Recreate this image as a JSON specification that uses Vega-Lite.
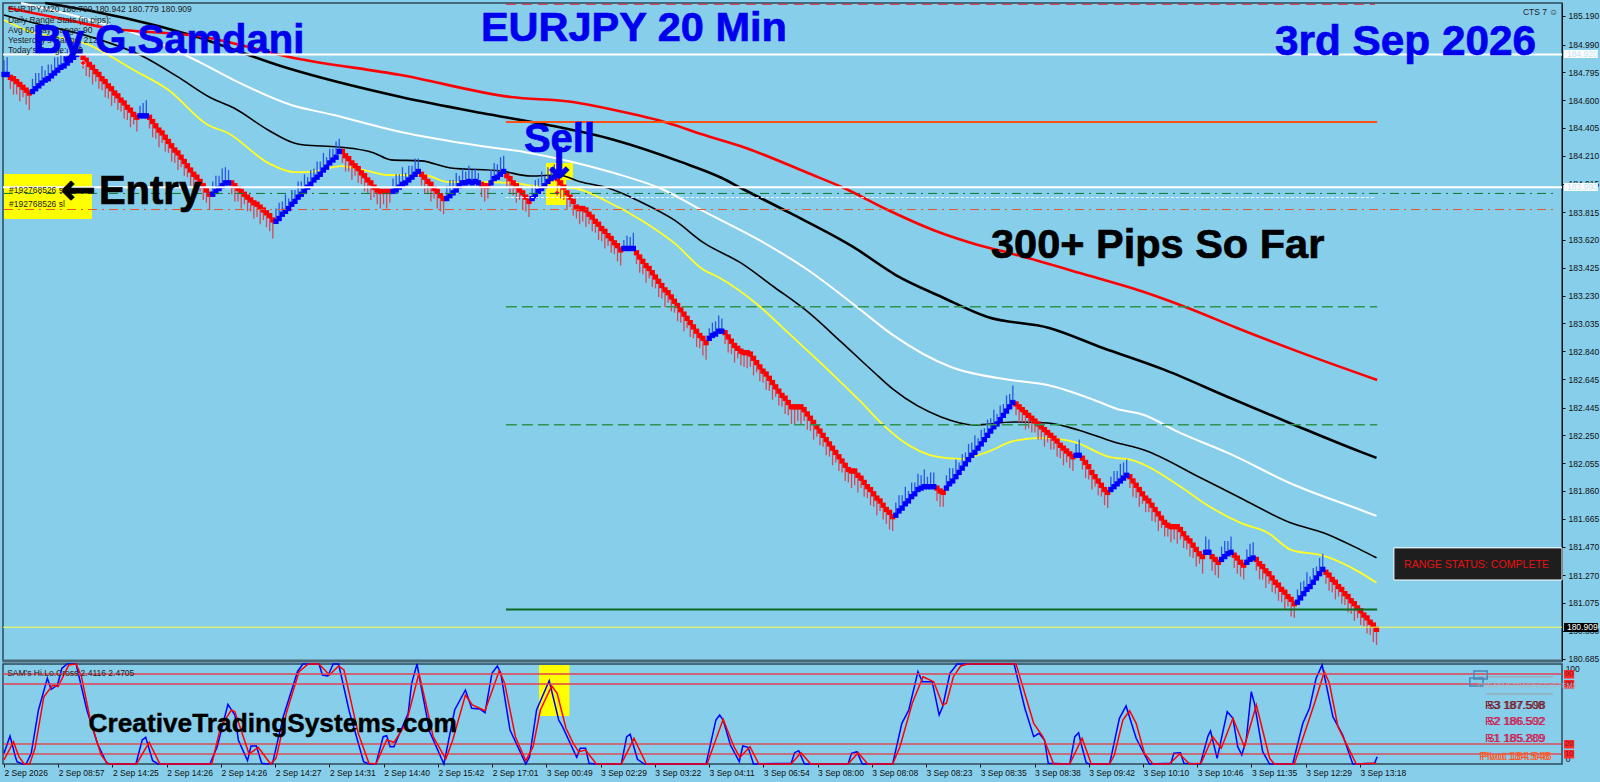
{
"$schema":"https://vega.github.io/schema/vega-lite/v6.json",
"background":"#87CEEB",
"padding":{"left":-1,"top":-3,"right":10,"bottom":22},
"spacing":-4,
"config":{"font":"Liberation Sans","view":{"stroke":"#2d4a58","strokeWidth":1.5}},
"datasets":{
"down":[{"bar":2,"price":184.76,"wick":184.68},{"bar":3,"price":184.75,"wick":184.64},{"bar":4,"price":184.73,"wick":184.64},{"bar":5,"price":184.71,"wick":184.59},{"bar":6,"price":184.69,"wick":184.62},{"bar":7,"price":184.67,"wick":184.57},{"bar":8,"price":184.65,"wick":184.53},
{"bar":25,"price":184.9,"wick":184.82},{"bar":26,"price":184.88,"wick":184.77},{"bar":27,"price":184.85,"wick":184.76},{"bar":28,"price":184.83,"wick":184.71},{"bar":29,"price":184.8,"wick":184.73},{"bar":30,"price":184.78,"wick":184.68},{"bar":31,"price":184.75,"wick":184.67},{"bar":32,"price":184.73,"wick":184.62},{"bar":33,"price":184.7,"wick":184.61},{"bar":34,"price":184.68,"wick":184.56},{"bar":35,"price":184.65,"wick":184.58},{"bar":36,"price":184.63,"wick":184.53},{"bar":37,"price":184.6,"wick":184.52},{"bar":38,"price":184.58,"wick":184.47},{"bar":39,"price":184.55,"wick":184.46},{"bar":40,"price":184.53,"wick":184.41},{"bar":41,"price":184.5,"wick":184.43},{"bar":42,"price":184.48,"wick":184.38},
{"bar":46,"price":184.48,"wick":184.4},{"bar":47,"price":184.45,"wick":184.34},{"bar":48,"price":184.42,"wick":184.33},{"bar":49,"price":184.39,"wick":184.27},{"bar":50,"price":184.37,"wick":184.3},{"bar":51,"price":184.34,"wick":184.24},{"bar":52,"price":184.31,"wick":184.23},{"bar":53,"price":184.28,"wick":184.17},{"bar":54,"price":184.25,"wick":184.16},{"bar":55,"price":184.23,"wick":184.11},{"bar":56,"price":184.2,"wick":184.13},{"bar":57,"price":184.17,"wick":184.07},{"bar":58,"price":184.14,"wick":184.06},{"bar":59,"price":184.11,"wick":184},{"bar":60,"price":184.08,"wick":183.99},{"bar":61,"price":184.06,"wick":183.94},{"bar":62,"price":184.03,"wick":183.96},{"bar":63,"price":184,"wick":183.9},{"bar":64,"price":183.97,"wick":183.88},{"bar":65,"price":183.94,"wick":183.83},
{"bar":72,"price":184.02,"wick":183.94},{"bar":73,"price":184,"wick":183.89},{"bar":74,"price":183.98,"wick":183.89},{"bar":75,"price":183.96,"wick":183.84},{"bar":76,"price":183.94,"wick":183.87},{"bar":77,"price":183.92,"wick":183.82},{"bar":78,"price":183.9,"wick":183.82},{"bar":79,"price":183.88,"wick":183.77},{"bar":80,"price":183.87,"wick":183.78},{"bar":81,"price":183.85,"wick":183.73},{"bar":82,"price":183.83,"wick":183.76},{"bar":83,"price":183.81,"wick":183.71},{"bar":84,"price":183.79,"wick":183.68},{"bar":85,"price":183.76,"wick":183.63},
{"bar":107,"price":184.24,"wick":184.16},{"bar":108,"price":184.21,"wick":184.1},{"bar":109,"price":184.19,"wick":184.1},{"bar":110,"price":184.16,"wick":184.04},{"bar":111,"price":184.14,"wick":184.07},{"bar":112,"price":184.12,"wick":184.02},{"bar":113,"price":184.09,"wick":184.01},{"bar":114,"price":184.07,"wick":183.96},{"bar":115,"price":184.04,"wick":183.95},{"bar":116,"price":184.02,"wick":183.9},{"bar":117,"price":183.99,"wick":183.92},{"bar":118,"price":183.97,"wick":183.87},{"bar":119,"price":183.96,"wick":183.84},{"bar":120,"price":183.96,"wick":183.87},{"bar":121,"price":183.96,"wick":183.84},{"bar":122,"price":183.96,"wick":183.88},
{"bar":132,"price":184.08,"wick":184},{"bar":133,"price":184.06,"wick":183.95},{"bar":134,"price":184.03,"wick":183.94},{"bar":135,"price":184.01,"wick":183.89},{"bar":136,"price":183.98,"wick":183.91},{"bar":137,"price":183.96,"wick":183.84},{"bar":138,"price":183.93,"wick":183.82},{"bar":139,"price":183.91,"wick":183.8},
{"bar":151,"price":184.01,"wick":183.92},{"bar":152,"price":184,"wick":183.89},{"bar":153,"price":184,"wick":183.91},
{"bar":159,"price":184.07,"wick":183.99},{"bar":160,"price":184.05,"wick":183.94},{"bar":161,"price":184.02,"wick":183.93},{"bar":162,"price":184,"wick":183.88},{"bar":163,"price":183.97,"wick":183.9},{"bar":164,"price":183.95,"wick":183.83},{"bar":165,"price":183.92,"wick":183.82},{"bar":166,"price":183.89,"wick":183.78},
{"bar":175,"price":184.05,"wick":183.97},{"bar":176,"price":184.02,"wick":183.91},{"bar":177,"price":183.99,"wick":183.9},{"bar":178,"price":183.95,"wick":183.83},{"bar":179,"price":183.92,"wick":183.85},{"bar":180,"price":183.89,"wick":183.79},{"bar":181,"price":183.85,"wick":183.77},{"bar":182,"price":183.84,"wick":183.73},{"bar":183,"price":183.84,"wick":183.75},{"bar":184,"price":183.83,"wick":183.71},{"bar":185,"price":183.8,"wick":183.73},{"bar":186,"price":183.78,"wick":183.68},{"bar":187,"price":183.75,"wick":183.67},{"bar":188,"price":183.73,"wick":183.62},{"bar":189,"price":183.7,"wick":183.61},{"bar":190,"price":183.68,"wick":183.56},{"bar":191,"price":183.65,"wick":183.58},{"bar":192,"price":183.63,"wick":183.53},{"bar":193,"price":183.6,"wick":183.52},{"bar":194,"price":183.58,"wick":183.47},{"bar":195,"price":183.55,"wick":183.44},
{"bar":200,"price":183.53,"wick":183.45},{"bar":201,"price":183.5,"wick":183.39},{"bar":202,"price":183.47,"wick":183.38},{"bar":203,"price":183.44,"wick":183.32},{"bar":204,"price":183.42,"wick":183.35},{"bar":205,"price":183.39,"wick":183.29},{"bar":206,"price":183.36,"wick":183.28},{"bar":207,"price":183.33,"wick":183.22},{"bar":208,"price":183.3,"wick":183.21},{"bar":209,"price":183.27,"wick":183.15},{"bar":210,"price":183.25,"wick":183.18},{"bar":211,"price":183.22,"wick":183.12},{"bar":212,"price":183.19,"wick":183.11},{"bar":213,"price":183.16,"wick":183.05},{"bar":214,"price":183.13,"wick":183.04},{"bar":215,"price":183.1,"wick":182.98},{"bar":216,"price":183.07,"wick":183},{"bar":217,"price":183.04,"wick":182.94},{"bar":218,"price":183.01,"wick":182.93},{"bar":219,"price":182.98,"wick":182.87},{"bar":220,"price":182.95,"wick":182.86},{"bar":221,"price":182.93,"wick":182.81},{"bar":222,"price":182.9,"wick":182.78},
{"bar":228,"price":182.97,"wick":182.89},{"bar":229,"price":182.94,"wick":182.83},{"bar":230,"price":182.91,"wick":182.82},{"bar":231,"price":182.88,"wick":182.76},{"bar":232,"price":182.86,"wick":182.79},{"bar":233,"price":182.84,"wick":182.74},{"bar":234,"price":182.83,"wick":182.73},{"bar":235,"price":182.83,"wick":182.72},{"bar":236,"price":182.82,"wick":182.73},{"bar":237,"price":182.79,"wick":182.67},{"bar":238,"price":182.76,"wick":182.69},{"bar":239,"price":182.73,"wick":182.63},{"bar":240,"price":182.7,"wick":182.62},{"bar":241,"price":182.68,"wick":182.57},{"bar":242,"price":182.65,"wick":182.56},{"bar":243,"price":182.62,"wick":182.5},{"bar":244,"price":182.59,"wick":182.52},{"bar":245,"price":182.56,"wick":182.46},{"bar":246,"price":182.53,"wick":182.45},{"bar":247,"price":182.51,"wick":182.4},{"bar":248,"price":182.48,"wick":182.39},{"bar":249,"price":182.45,"wick":182.33},{"bar":250,"price":182.45,"wick":182.33},{"bar":251,"price":182.45,"wick":182.35},{"bar":252,"price":182.45,"wick":182.33},
{"bar":253,"price":182.43,"wick":182.35},{"bar":254,"price":182.4,"wick":182.29},{"bar":255,"price":182.37,"wick":182.28},{"bar":256,"price":182.34,"wick":182.22},{"bar":257,"price":182.31,"wick":182.24},{"bar":258,"price":182.28,"wick":182.18},{"bar":259,"price":182.25,"wick":182.17},{"bar":260,"price":182.22,"wick":182.11},{"bar":261,"price":182.19,"wick":182.1},{"bar":262,"price":182.16,"wick":182.04},{"bar":263,"price":182.13,"wick":182.06},{"bar":264,"price":182.1,"wick":182},{"bar":265,"price":182.07,"wick":181.99},{"bar":266,"price":182.04,"wick":181.93},{"bar":267,"price":182.01,"wick":181.92},{"bar":268,"price":182,"wick":181.88},{"bar":269,"price":182,"wick":181.9},{"bar":270,"price":181.97,"wick":181.85},{"bar":271,"price":181.95,"wick":181.88},{"bar":272,"price":181.92,"wick":181.82},{"bar":273,"price":181.89,"wick":181.81},{"bar":274,"price":181.87,"wick":181.76},{"bar":275,"price":181.84,"wick":181.75},{"bar":276,"price":181.81,"wick":181.69},{"bar":277,"price":181.79,"wick":181.72},{"bar":278,"price":181.76,"wick":181.66},{"bar":279,"price":181.73,"wick":181.63},{"bar":280,"price":181.71,"wick":181.59},{"bar":281,"price":181.68,"wick":181.58},
{"bar":295,"price":181.88,"wick":181.79},{"bar":296,"price":181.86,"wick":181.75},{"bar":297,"price":181.85,"wick":181.75},
{"bar":320,"price":182.47,"wick":182.39},{"bar":321,"price":182.45,"wick":182.34},{"bar":322,"price":182.43,"wick":182.34},{"bar":323,"price":182.41,"wick":182.29},{"bar":324,"price":182.39,"wick":182.3},{"bar":325,"price":182.37,"wick":182.27},{"bar":326,"price":182.35,"wick":182.27},{"bar":327,"price":182.33,"wick":182.22},{"bar":328,"price":182.31,"wick":182.22},{"bar":329,"price":182.29,"wick":182.17},{"bar":330,"price":182.27,"wick":182.2},{"bar":331,"price":182.25,"wick":182.15},{"bar":332,"price":182.23,"wick":182.15},{"bar":333,"price":182.21,"wick":182.1},{"bar":334,"price":182.18,"wick":182.09},{"bar":335,"price":182.16,"wick":182.04},{"bar":336,"price":182.14,"wick":182.06},{"bar":337,"price":182.12,"wick":182.02},{"bar":338,"price":182.1,"wick":182},
{"bar":341,"price":182.09,"wick":182.01},{"bar":342,"price":182.06,"wick":181.95},{"bar":343,"price":182.03,"wick":181.94},{"bar":344,"price":181.99,"wick":181.87},{"bar":345,"price":181.96,"wick":181.89},{"bar":346,"price":181.93,"wick":181.83},{"bar":347,"price":181.9,"wick":181.82},{"bar":348,"price":181.87,"wick":181.76},{"bar":349,"price":181.85,"wick":181.74},
{"bar":356,"price":181.96,"wick":181.88},{"bar":357,"price":181.93,"wick":181.82},{"bar":358,"price":181.9,"wick":181.81},{"bar":359,"price":181.87,"wick":181.75},{"bar":360,"price":181.84,"wick":181.77},{"bar":361,"price":181.81,"wick":181.71},{"bar":362,"price":181.79,"wick":181.71},{"bar":363,"price":181.76,"wick":181.65},{"bar":364,"price":181.73,"wick":181.64},{"bar":365,"price":181.7,"wick":181.58},{"bar":366,"price":181.67,"wick":181.6},{"bar":367,"price":181.64,"wick":181.54},{"bar":368,"price":181.62,"wick":181.54},{"bar":369,"price":181.61,"wick":181.5},{"bar":370,"price":181.61,"wick":181.52},{"bar":371,"price":181.61,"wick":181.49},{"bar":372,"price":181.59,"wick":181.52},{"bar":373,"price":181.56,"wick":181.46},{"bar":374,"price":181.53,"wick":181.45},{"bar":375,"price":181.51,"wick":181.4},{"bar":376,"price":181.48,"wick":181.39},{"bar":377,"price":181.45,"wick":181.33},{"bar":378,"price":181.42,"wick":181.35},{"bar":379,"price":181.4,"wick":181.28},
{"bar":382,"price":181.4,"wick":181.3},{"bar":383,"price":181.38,"wick":181.27},{"bar":384,"price":181.36,"wick":181.25},
{"bar":389,"price":181.41,"wick":181.32},{"bar":390,"price":181.39,"wick":181.28},{"bar":391,"price":181.36,"wick":181.26},{"bar":392,"price":181.34,"wick":181.24},
{"bar":396,"price":181.38,"wick":181.3},{"bar":397,"price":181.35,"wick":181.24},{"bar":398,"price":181.33,"wick":181.24},{"bar":399,"price":181.3,"wick":181.18},{"bar":400,"price":181.28,"wick":181.21},{"bar":401,"price":181.25,"wick":181.15},{"bar":402,"price":181.22,"wick":181.14},{"bar":403,"price":181.2,"wick":181.09},{"bar":404,"price":181.17,"wick":181.08},{"bar":405,"price":181.15,"wick":181.03},{"bar":406,"price":181.12,"wick":181.05},{"bar":407,"price":181.1,"wick":180.98},{"bar":408,"price":181.07,"wick":180.97},
{"bar":418,"price":181.29,"wick":181.21},{"bar":419,"price":181.27,"wick":181.16},{"bar":420,"price":181.24,"wick":181.15},{"bar":421,"price":181.22,"wick":181.1},{"bar":422,"price":181.19,"wick":181.12},{"bar":423,"price":181.17,"wick":181.07},{"bar":424,"price":181.14,"wick":181.06},{"bar":425,"price":181.12,"wick":181.01},{"bar":426,"price":181.09,"wick":181},{"bar":427,"price":181.07,"wick":180.95},{"bar":428,"price":181.04,"wick":180.97},{"bar":429,"price":181.02,"wick":180.92},{"bar":430,"price":180.99,"wick":180.91},{"bar":431,"price":180.97,"wick":180.86},{"bar":432,"price":180.94,"wick":180.85},{"bar":433,"price":180.92,"wick":180.8},{"bar":434,"price":180.89,"wick":180.78}],
"up":[{"bar":0,"price":184.78,"wick":184.88},{"bar":1,"price":184.78,"wick":184.9},
{"bar":9,"price":184.66,"wick":184.75},{"bar":10,"price":184.68,"wick":184.79},{"bar":11,"price":184.7,"wick":184.79},{"bar":12,"price":184.72,"wick":184.84},{"bar":13,"price":184.74,"wick":184.81},{"bar":14,"price":184.75,"wick":184.85},{"bar":15,"price":184.77,"wick":184.85},{"bar":16,"price":184.79,"wick":184.9},{"bar":17,"price":184.81,"wick":184.9},{"bar":18,"price":184.83,"wick":184.95},{"bar":19,"price":184.84,"wick":184.91},{"bar":20,"price":184.86,"wick":184.96},{"bar":21,"price":184.88,"wick":184.96},{"bar":22,"price":184.9,"wick":185.01},{"bar":23,"price":184.92,"wick":185.01},{"bar":24,"price":184.94,"wick":185.06},
{"bar":43,"price":184.49,"wick":184.56},{"bar":44,"price":184.49,"wick":184.58},{"bar":45,"price":184.49,"wick":184.6},
{"bar":66,"price":183.94,"wick":184.03},{"bar":67,"price":183.96,"wick":184.07},{"bar":68,"price":183.98,"wick":184.07},{"bar":69,"price":184,"wick":184.12},{"bar":70,"price":184.02,"wick":184.13},{"bar":71,"price":184.02,"wick":184.11},
{"bar":86,"price":183.75,"wick":183.84},{"bar":87,"price":183.77,"wick":183.88},{"bar":88,"price":183.8,"wick":183.89},{"bar":89,"price":183.82,"wick":183.94},{"bar":90,"price":183.84,"wick":183.91},{"bar":91,"price":183.87,"wick":183.97},{"bar":92,"price":183.89,"wick":183.97},{"bar":93,"price":183.92,"wick":184.03},{"bar":94,"price":183.94,"wick":184.03},{"bar":95,"price":183.96,"wick":184.08},{"bar":96,"price":183.99,"wick":184.06},{"bar":97,"price":184.01,"wick":184.11},{"bar":98,"price":184.04,"wick":184.12},{"bar":99,"price":184.06,"wick":184.17},{"bar":100,"price":184.08,"wick":184.17},{"bar":101,"price":184.11,"wick":184.23},{"bar":102,"price":184.13,"wick":184.2},{"bar":103,"price":184.16,"wick":184.26},{"bar":104,"price":184.18,"wick":184.26},{"bar":105,"price":184.2,"wick":184.31},{"bar":106,"price":184.24,"wick":184.33},
{"bar":123,"price":183.96,"wick":184.05},{"bar":124,"price":183.97,"wick":184.08},{"bar":125,"price":183.99,"wick":184.08},{"bar":126,"price":184.01,"wick":184.13},{"bar":127,"price":184.02,"wick":184.09},{"bar":128,"price":184.04,"wick":184.14},{"bar":129,"price":184.06,"wick":184.14},{"bar":130,"price":184.08,"wick":184.19},{"bar":131,"price":184.1,"wick":184.19},
{"bar":140,"price":183.91,"wick":184},{"bar":141,"price":183.93,"wick":184.04},{"bar":142,"price":183.95,"wick":184.04},{"bar":143,"price":183.97,"wick":184.09},{"bar":144,"price":184,"wick":184.07},{"bar":145,"price":184.02,"wick":184.12},{"bar":146,"price":184.02,"wick":184.1},{"bar":147,"price":184.03,"wick":184.14},{"bar":148,"price":184.02,"wick":184.11},{"bar":149,"price":184.03,"wick":184.12},{"bar":150,"price":184.02,"wick":184.09},
{"bar":154,"price":184.02,"wick":184.11},{"bar":155,"price":184.05,"wick":184.16},{"bar":156,"price":184.06,"wick":184.15},{"bar":157,"price":184.08,"wick":184.2},{"bar":158,"price":184.1,"wick":184.21},
{"bar":167,"price":183.91,"wick":184},{"bar":168,"price":183.93,"wick":184.04},{"bar":169,"price":183.96,"wick":184.05},{"bar":170,"price":183.98,"wick":184.1},{"bar":171,"price":184,"wick":184.07},{"bar":172,"price":184.03,"wick":184.13},{"bar":173,"price":184.05,"wick":184.13},{"bar":174,"price":184.06,"wick":184.15},
{"bar":196,"price":183.56,"wick":183.62},{"bar":197,"price":183.56,"wick":183.65},{"bar":198,"price":183.56,"wick":183.64},{"bar":199,"price":183.56,"wick":183.67},
{"bar":223,"price":182.93,"wick":183},{"bar":224,"price":182.95,"wick":183.04},{"bar":225,"price":182.96,"wick":183.05},{"bar":226,"price":182.98,"wick":183.09},{"bar":227,"price":182.98,"wick":183.07},
{"bar":282,"price":181.69,"wick":181.78},{"bar":283,"price":181.72,"wick":181.83},{"bar":284,"price":181.74,"wick":181.83},{"bar":285,"price":181.77,"wick":181.89},{"bar":286,"price":181.79,"wick":181.86},{"bar":287,"price":181.82,"wick":181.92},{"bar":288,"price":181.84,"wick":181.92},{"bar":289,"price":181.87,"wick":181.98},{"bar":290,"price":181.88,"wick":181.97},{"bar":291,"price":181.89,"wick":182.01},{"bar":292,"price":181.89,"wick":181.96},{"bar":293,"price":181.89,"wick":181.99},{"bar":294,"price":181.89,"wick":181.99},
{"bar":298,"price":181.88,"wick":181.97},{"bar":299,"price":181.91,"wick":182.02},{"bar":300,"price":181.93,"wick":182.02},{"bar":301,"price":181.96,"wick":182.08},{"bar":302,"price":181.99,"wick":182.06},{"bar":303,"price":182.02,"wick":182.12},{"bar":304,"price":182.05,"wick":182.13},{"bar":305,"price":182.08,"wick":182.19},{"bar":306,"price":182.11,"wick":182.2},{"bar":307,"price":182.13,"wick":182.25},{"bar":308,"price":182.16,"wick":182.23},{"bar":309,"price":182.19,"wick":182.29},{"bar":310,"price":182.22,"wick":182.3},{"bar":311,"price":182.25,"wick":182.36},{"bar":312,"price":182.28,"wick":182.37},{"bar":313,"price":182.31,"wick":182.43},{"bar":314,"price":182.33,"wick":182.4},{"bar":315,"price":182.36,"wick":182.46},{"bar":316,"price":182.39,"wick":182.47},{"bar":317,"price":182.42,"wick":182.53},{"bar":318,"price":182.45,"wick":182.54},{"bar":319,"price":182.48,"wick":182.6},
{"bar":339,"price":182.11,"wick":182.19},{"bar":340,"price":182.11,"wick":182.22},
{"bar":350,"price":181.87,"wick":181.96},{"bar":351,"price":181.89,"wick":182},{"bar":352,"price":181.91,"wick":182},{"bar":353,"price":181.93,"wick":182.05},{"bar":354,"price":181.95,"wick":182.06},{"bar":355,"price":181.97,"wick":182.08},
{"bar":380,"price":181.43,"wick":181.54},{"bar":381,"price":181.43,"wick":181.52},
{"bar":385,"price":181.38,"wick":181.47},{"bar":386,"price":181.4,"wick":181.51},{"bar":387,"price":181.42,"wick":181.51},{"bar":388,"price":181.43,"wick":181.54},
{"bar":393,"price":181.36,"wick":181.45},{"bar":394,"price":181.38,"wick":181.49},{"bar":395,"price":181.39,"wick":181.5},
{"bar":409,"price":181.08,"wick":181.17},{"bar":410,"price":181.11,"wick":181.22},{"bar":411,"price":181.14,"wick":181.23},{"bar":412,"price":181.17,"wick":181.29},{"bar":413,"price":181.19,"wick":181.26},{"bar":414,"price":181.22,"wick":181.32},{"bar":415,"price":181.25,"wick":181.33},{"bar":416,"price":181.28,"wick":181.39},{"bar":417,"price":181.31,"wick":181.42}]
},
"vconcat":[
{"width":1559,"height":658,
"encoding":{
"x":{"field":"bar","type":"quantitative","title":null,"axis":null,"scale":{"domain":[-0.32,492.65],"nice":false,"zero":false}},
"y":{"field":"price","type":"quantitative","title":null,"scale":{"domain":[180.668,185.281],"nice":false,"zero":false},
"axis":{"orient":"right","grid":false,"title":null,"format":".3f","values":[185.19,184.99,184.795,184.6,184.405,184.21,184.015,183.815,183.62,183.425,183.23,183.035,182.84,182.645,182.445,182.25,182.055,181.86,181.665,181.47,181.27,181.075,180.88,180.685],"labelFontSize":8.5,"labelColor":"#111","tickColor":"#111","tickSize":3,"labelPadding":3,"domainColor":"#111","labelOverlap":false,"labelFlush":false}}
},
"layer":[
{"mark":{"type":"rect","color":"#ffff00"},"data":{"values":[{"bar":0,"end":27.8,"price":184.082,"low":183.767},{"bar":171.4,"end":177.7,"price":184.16,"low":183.865},{"bar":177.7,"end":179.9,"price":184.16,"low":184.04}]},"encoding":{"x2":{"field":"end"},"y2":{"field":"low"}}},
{"mark":{"type":"line","color":"#ffff22","strokeWidth":1.8,"interpolate":"monotone"},"data":{"values":[{"bar":0,"price":185.162},{"bar":8.5,"price":185.078},{"bar":18,"price":185.036},{"bar":25.3,"price":185},{"bar":41,"price":184.811},{"bar":52,"price":184.671},{"bar":64.5,"price":184.426},{"bar":70.8,"price":184.37},{"bar":83.5,"price":184.16},{"bar":91.7,"price":184.096},{"bar":96,"price":184.096},{"bar":106.6,"price":184.138},{"bar":113.8,"price":184.11},{"bar":121.4,"price":184.075},{"bar":132.8,"price":184.075},{"bar":140.4,"price":184.026},{"bar":150.8,"price":184.026},{"bar":161.3,"price":184.019},{"bar":167.6,"price":183.998},{"bar":180.2,"price":183.984},{"bar":191,"price":183.886},{"bar":201.4,"price":183.76},{"bar":211.9,"price":183.599},{"bar":221.3,"price":183.409},{"bar":225.8,"price":183.36},{"bar":238.4,"price":183.164},{"bar":248,"price":182.968},{"bar":260.6,"price":182.708},{"bar":271,"price":182.484},{"bar":278,"price":182.323},{"bar":283.6,"price":182.218},{"bar":295.3,"price":182.099},{"bar":302.6,"price":182.085},{"bar":311,"price":182.134},{"bar":319.4,"price":182.211},{"bar":328,"price":182.232},{"bar":338.3,"price":182.204},{"bar":349.4,"price":182.099},{"bar":356.4,"price":182.078},{"bar":372.2,"price":181.888},{"bar":379.4,"price":181.776},{"bar":391,"price":181.636},{"bar":399.7,"price":181.566},{"bar":407,"price":181.447},{"bar":417.4,"price":181.405},{"bar":429,"price":181.286},{"bar":434,"price":181.216}]}},
{"mark":{"type":"line","color":"#000000","strokeWidth":1.6,"interpolate":"monotone"},"data":{"values":[{"bar":0,"price":185.197},{"bar":9.5,"price":185.141},{"bar":27.5,"price":185.043},{"bar":44.3,"price":184.903},{"bar":55,"price":184.763},{"bar":65.5,"price":184.615},{"bar":72.7,"price":184.545},{"bar":83.5,"price":184.391},{"bar":91.7,"price":184.3},{"bar":94.9,"price":184.286},{"bar":105.6,"price":184.272},{"bar":117,"price":184.23},{"bar":122.4,"price":184.181},{"bar":131.9,"price":184.174},{"bar":141.3,"price":184.124},{"bar":157.2,"price":184.103},{"bar":166.6,"price":184.068},{"bar":175.2,"price":184.075},{"bar":182.5,"price":184.026},{"bar":191,"price":183.984},{"bar":201.4,"price":183.886},{"bar":211.9,"price":183.76},{"bar":221.3,"price":183.599},{"bar":233,"price":183.459},{"bar":243.5,"price":183.29},{"bar":254.2,"price":183.115},{"bar":264.7,"price":182.905},{"bar":275,"price":182.694},{"bar":281.4,"price":182.568},{"bar":296.3,"price":182.379},{"bar":306.7,"price":182.323},{"bar":319.4,"price":182.344},{"bar":330,"price":182.337},{"bar":339.6,"price":182.288},{"bar":351,"price":182.204},{"bar":360.5,"price":182.148},{"bar":378.5,"price":181.951},{"bar":391,"price":181.811},{"bar":407,"price":181.636},{"bar":417.4,"price":181.566},{"bar":429,"price":181.447},{"bar":434,"price":181.391}]}},
{"mark":{"type":"line","color":"#ffffff","strokeWidth":2,"interpolate":"monotone"},"data":{"values":[{"bar":5.4,"price":185.281},{"bar":30.7,"price":185.141},{"bar":45.5,"price":185.036},{"bar":62.3,"price":184.861},{"bar":72.7,"price":184.741},{"bar":90.8,"price":184.566},{"bar":104.3,"price":184.496},{"bar":125.5,"price":184.377},{"bar":150.8,"price":184.279},{"bar":164.4,"price":184.237},{"bar":177,"price":184.181},{"bar":192.9,"price":184.089},{"bar":208.7,"price":183.97},{"bar":220.4,"price":183.83},{"bar":238.7,"price":183.62},{"bar":254.2,"price":183.409},{"bar":269.7,"price":183.15},{"bar":281,"price":182.954},{"bar":299.4,"price":182.729},{"bar":318.4,"price":182.638},{"bar":330,"price":182.603},{"bar":344.7,"price":182.498},{"bar":352,"price":182.435},{"bar":360.5,"price":182.393},{"bar":371.2,"price":182.274},{"bar":387,"price":182.127},{"bar":408,"price":181.902},{"bar":429,"price":181.727},{"bar":434,"price":181.685}]}},
{"mark":{"type":"line","color":"#000000","strokeWidth":2.6,"interpolate":"monotone"},"data":{"values":[{"bar":13,"price":185.281},{"bar":17,"price":185.267},{"bar":59,"price":185.057},{"bar":88.5,"price":184.832},{"bar":125.5,"price":184.622},{"bar":151,"price":184.51},{"bar":172,"price":184.426},{"bar":193,"price":184.321},{"bar":214,"price":184.167},{"bar":227,"price":184.054},{"bar":233,"price":183.984},{"bar":248.5,"price":183.809},{"bar":268.5,"price":183.571},{"bar":282,"price":183.374},{"bar":296.5,"price":183.22},{"bar":311,"price":183.08},{"bar":330.5,"price":183.003},{"bar":347.5,"price":182.863},{"bar":367,"price":182.709},{"bar":387,"price":182.519},{"bar":408,"price":182.323},{"bar":429,"price":182.134},{"bar":434,"price":182.092}]}},
{"mark":{"type":"line","color":"#ff0000","strokeWidth":2.6,"interpolate":"monotone"},"data":{"values":[{"bar":1.3,"price":185.246},{"bar":20.2,"price":185.162},{"bar":30.7,"price":185.113},{"bar":63.2,"price":185.043},{"bar":91.7,"price":184.896},{"bar":125.5,"price":184.776},{"bar":160.3,"price":184.622},{"bar":179.9,"price":184.587},{"bar":192.9,"price":184.531},{"bar":210,"price":184.44},{"bar":220.4,"price":184.363},{"bar":234.6,"price":184.265},{"bar":254.2,"price":184.089},{"bar":265.6,"price":183.984},{"bar":279.5,"price":183.83},{"bar":293.8,"price":183.69},{"bar":308,"price":183.585},{"bar":319,"price":183.522},{"bar":340.2,"price":183.388},{"bar":361.4,"price":183.248},{"bar":374.4,"price":183.143},{"bar":389.9,"price":183.003},{"bar":409.5,"price":182.835},{"bar":434.2,"price":182.638}]}},
{"mark":{"type":"rule","color":"#cf4a5a","strokeWidth":1.3},"data":{"name":"down"},"encoding":{"y2":{"field":"wick"}}},
{"mark":{"type":"rule","color":"#2a55e5","strokeWidth":1.3},"data":{"name":"up"},"encoding":{"y2":{"field":"wick"}}},
{"mark":{"type":"square","color":"#ff0000","size":28,"opacity":1},"data":{"name":"down"}},
{"mark":{"type":"square","color":"#0000ff","size":28,"opacity":1},"data":{"name":"up"}},
{"mark":{"type":"point","shape":"cross","filled":true,"color":"#ff0000","size":26,"opacity":1,"stroke":"#ffffff","strokeWidth":0.4},"data":{"values":[{"bar":25,"price":184.86},{"bar":174.9,"price":183.95}]}},
{"mark":{"type":"rule","color":"#ffffff","strokeWidth":2},"data":{"values":[{"bar":-0.32,"end":492.65,"price":184.92},{"bar":-0.32,"end":492.65,"price":183.99}]},"encoding":{"x2":{"field":"end"}}},
{"mark":{"type":"rule","color":"#ff5014","strokeWidth":2},"data":{"values":[{"bar":158.7,"end":434.2,"price":184.447}]},"encoding":{"x2":{"field":"end"}}},
{"mark":{"type":"rule","color":"#e8203c","strokeWidth":1,"strokeDash":[10,6]},"data":{"values":[{"bar":158.7,"end":433.5,"price":185.272}]},"encoding":{"x2":{"field":"end"}}},
{"mark":{"type":"rule","color":"#0e7a2a","strokeWidth":1,"strokeDash":[9,5,2,5]},"data":{"values":[{"bar":0,"end":491.1,"price":183.946}]},"encoding":{"x2":{"field":"end"}}},
{"mark":{"type":"rule","color":"#e9552a","strokeWidth":1,"strokeDash":[9,5,2,5]},"data":{"values":[{"bar":0,"end":491.1,"price":183.833}]},"encoding":{"x2":{"field":"end"}}},
{"mark":{"type":"rule","color":"#f2f6fa","strokeWidth":1,"strokeDash":[3,2]},"data":{"values":[{"bar":158.7,"end":433.5,"price":183.917}]},"encoding":{"x2":{"field":"end"}}},
{"mark":{"type":"rule","color":"#2e9450","strokeWidth":1.5,"strokeDash":[11,5]},"data":{"values":[{"bar":158.7,"end":434.2,"price":183.152},{"bar":158.7,"end":434.2,"price":182.325}]},"encoding":{"x2":{"field":"end"}}},
{"mark":{"type":"rule","color":"#0b6b20","strokeWidth":2},"data":{"values":[{"bar":158.7,"end":434.2,"price":181.029}]},"encoding":{"x2":{"field":"end"}}},
{"mark":{"type":"rule","color":"#ffff44","strokeWidth":1},"data":{"values":[{"bar":-0.32,"end":492.65,"price":180.905}]},"encoding":{"x2":{"field":"end"}}},
{"mark":{"type":"rule","color":"#4a6675","strokeWidth":3},"data":{"values":[{"bar":-0.32,"end":492.65,"price":180.668}]},"encoding":{"x2":{"field":"end"}}},
{"mark":{"type":"rect","color":"#1e1e1e","stroke":"#ffffff","strokeWidth":1},"data":{"values":[{"bar":439.5,"end":492.65,"price":181.461,"low":181.236}]},"encoding":{"x2":{"field":"end"},"y2":{"field":"low"}}},
{"mark":{"type":"rect","color":"#ffffff"},"data":{"values":[{"bar":493.3,"end":504,"price":184.952,"low":184.896},{"bar":493.3,"end":504,"price":184.019,"low":183.963}]},"encoding":{"x2":{"field":"end"},"y2":{"field":"low"}}},
{"mark":{"type":"rect","color":"#000000"},"data":{"values":[{"bar":493.3,"end":504,"price":180.935,"low":180.872}]},"encoding":{"x2":{"field":"end"},"y2":{"field":"low"}}},
{"mark":{"type":"text","align":"left","baseline":"middle","fontSize":8.5,"color":"#bfe3f5"},"data":{"values":[{"bar":494.2,"price":184.924,"label":"184.920"},{"bar":494.2,"price":183.991,"label":"183.990"}]},"encoding":{"text":{"field":"label"}}},
{"mark":{"type":"text","align":"left","baseline":"middle","fontSize":8.5,"color":"#ffffff"},"data":{"values":[{"bar":494.2,"price":180.905,"label":"180.909"}]},"encoding":{"text":{"field":"label"}}},
{"mark":{"type":"text","align":"left","baseline":"middle","fontSize":10.6,"color":"#e81010"},"data":{"values":[{"bar":442.7,"price":181.34,"label":"RANGE STATUS: COMPLETE"}]},"encoding":{"text":{"field":"label"}}},
{"mark":{"type":"text","align":"left","baseline":"alphabetic","fontSize":8.5,"color":"#222222"},"data":{"values":[{"bar":1.3,"price":185.218,"label":"EURJPY,M20  180.799 180.942 180.779 180.909"},{"bar":1.3,"price":185.141,"label":"Daily Range Stats (in pips):"},{"bar":1.3,"price":185.071,"label":"Avg 60-day Range: 90"},{"bar":1.3,"price":185.001,"label":"Yesterday's Range: 212"},{"bar":1.3,"price":184.931,"label":"Today's Range: 339"},{"bar":1.6,"price":183.949,"label":"#192768526 sell"},{"bar":1.6,"price":183.851,"label":"#192768526 sl"}]},"encoding":{"text":{"field":"label"}}},
{"mark":{"type":"text","align":"right","baseline":"alphabetic","fontSize":8.5,"color":"#222222"},"data":{"values":[{"bar":491.4,"price":185.2,"label":"CTS 7 ☺"}]},"encoding":{"text":{"field":"label"}}},
{"mark":{"type":"text","align":"left","baseline":"alphabetic","fontWeight":"bold","fontSize":40,"color":"#0000ee","stroke":"#0000ee","strokeWidth":0.7},"data":{"values":[{"bar":9.2,"price":184.931,"label":"By G.Samdani"},{"bar":164.4,"price":184.237,"label":"Sell"}]},"encoding":{"text":{"field":"label"}}},
{"mark":{"type":"text","align":"left","baseline":"alphabetic","fontWeight":"bold","fontSize":41.5,"color":"#0000ee","stroke":"#0000ee","strokeWidth":0.7},"data":{"values":[{"bar":150.8,"price":185.015,"label":"EURJPY 20 Min"}]},"encoding":{"text":{"field":"label"}}},
{"mark":{"type":"text","align":"left","baseline":"alphabetic","fontWeight":"bold","fontSize":42.3,"color":"#0000ee","stroke":"#0000ee","strokeWidth":0.7},"data":{"values":[{"bar":401.9,"price":184.917,"label":"3rd Sep 2026"}]},"encoding":{"text":{"field":"label"}}},
{"mark":{"type":"text","align":"left","baseline":"alphabetic","fontWeight":"bold","fontSize":40,"color":"#000000","stroke":"#000000","strokeWidth":0.7},"data":{"values":[{"bar":30,"price":183.872,"label":"Entry"}]},"encoding":{"text":{"field":"label"}}},
{"mark":{"type":"text","align":"left","baseline":"alphabetic","fontWeight":"bold","fontSize":41.5,"color":"#000000","stroke":"#000000","strokeWidth":0.7},"data":{"values":[{"bar":312.1,"price":183.494,"label":"300+ Pips So Far"}]},"encoding":{"text":{"field":"label"}}},
{"mark":{"type":"text","align":"center","baseline":"middle","font":"DejaVu Sans","fontWeight":"bold","fontSize":42,"color":"#000000","stroke":"#000000","strokeWidth":1},"data":{"values":[{"bar":23.5,"price":183.965,"label":"←"}]},"encoding":{"text":{"field":"label"}}},
{"mark":{"type":"text","align":"center","baseline":"middle","font":"DejaVu Sans","fontWeight":"bold","fontSize":42,"color":"#0000ee","stroke":"#0000ee","strokeWidth":1},"data":{"values":[{"bar":175.5,"price":184.146,"label":"↓"}]},"encoding":{"text":{"field":"label"}}}
]},
{"width":1559,"height":100,
"encoding":{
"x":{"field":"bar","type":"quantitative","title":null,"scale":{"domain":[-0.32,492.65],"nice":false,"zero":false},
"axis":{"orient":"bottom","grid":false,"title":null,"domain":false,"values":[0,17.15,34.3,51.45,68.6,85.75,102.9,120.05,137.2,154.35,171.5,188.65,205.8,222.95,240.1,257.25,274.4,291.55,308.7,325.85,343,360.15,377.3,394.45,411.6,428.75],"labelExpr":"['2 Sep 2026','2 Sep 08:57','2 Sep 14:25','2 Sep 14:26','2 Sep 14:26','2 Sep 14:27','2 Sep 14:31','2 Sep 14:40','2 Sep 15:42','2 Sep 17:01','3 Sep 00:49','3 Sep 02:29','3 Sep 03:22','3 Sep 04:11','3 Sep 06:54','3 Sep 08:00','3 Sep 08:08','3 Sep 08:23','3 Sep 08:35','3 Sep 08:38','3 Sep 09:42','3 Sep 10:10','3 Sep 10:46','3 Sep 11:35','3 Sep 12:29','3 Sep 13:18'][round(datum.value/17.15)]","labelAlign":"left","labelFontSize":8.5,"labelColor":"#111","tickColor":"#111","tickSize":3,"labelPadding":1,"labelOverlap":false,"labelFlush":false}},
"y":{"field":"level","type":"quantitative","title":null,"axis":null,"scale":{"domain":[0,100],"nice":false,"zero":false}}
},
"layer":[
{"mark":{"type":"rect","color":"#ffff00"},"data":{"values":[{"bar":169.2,"end":178.8,"level":99,"low":48}]},"encoding":{"x2":{"field":"end"},"y2":{"field":"low"}}},
{"mark":{"type":"line","color":"#0000ff","strokeWidth":1.5},"data":{"values":[{"bar":0,"level":10.7},{"bar":1.9,"level":28},{"bar":3.6,"level":7.3},{"bar":4.1,"level":2.3},{"bar":5.8,"level":0},{"bar":7,"level":0},{"bar":8.6,"level":10.7},{"bar":10.9,"level":54},{"bar":13.7,"level":85.7},{"bar":14.9,"level":74.7},{"bar":16.9,"level":79},{"bar":18.3,"level":95.7},{"bar":20,"level":100},{"bar":22.8,"level":100},{"bar":26.2,"level":54},{"bar":29.5,"level":20.7},{"bar":32.4,"level":1.3},{"bar":33.5,"level":0},{"bar":41.7,"level":0},{"bar":43.7,"level":24},{"bar":44.8,"level":26.7},{"bar":47,"level":3.3},{"bar":48.7,"level":0},{"bar":65.1,"level":0},{"bar":67.4,"level":17.3},{"bar":70.8,"level":59.7},{"bar":73,"level":49},{"bar":74.1,"level":24},{"bar":77,"level":3.3},{"bar":78.1,"level":18},{"bar":79.8,"level":18},{"bar":81.5,"level":0.7},{"bar":83.2,"level":0},{"bar":84.9,"level":0.7},{"bar":88.3,"level":47.3},{"bar":92.8,"level":92.3},{"bar":94.5,"level":100},{"bar":99.6,"level":100},{"bar":100.7,"level":89},{"bar":102.4,"level":88},{"bar":104.1,"level":100},{"bar":105.8,"level":100},{"bar":109.2,"level":52.3},{"bar":113.7,"level":2.3},{"bar":115.4,"level":0},{"bar":117.6,"level":0},{"bar":119.9,"level":27.3},{"bar":121,"level":28.3},{"bar":122.1,"level":17.3},{"bar":123.3,"level":17.3},{"bar":127.8,"level":50.7},{"bar":128.9,"level":80.7},{"bar":130.6,"level":100},{"bar":131.7,"level":80.7},{"bar":134.6,"level":32.3},{"bar":139.1,"level":0},{"bar":142.5,"level":54},{"bar":145.9,"level":74},{"bar":147.9,"level":55.7},{"bar":150.4,"level":55},{"bar":152.1,"level":51.3},{"bar":154.3,"level":90.7},{"bar":156,"level":98},{"bar":157.1,"level":90.7},{"bar":160,"level":34},{"bar":165,"level":0},{"bar":166.2,"level":7.3},{"bar":168.4,"level":54},{"bar":172.4,"level":83.3},{"bar":175.4,"level":44},{"bar":176.6,"level":37.3},{"bar":181.1,"level":6.7},{"bar":182.2,"level":15.7},{"bar":183.9,"level":15.7},{"bar":185,"level":0.7},{"bar":187.3,"level":0},{"bar":195.2,"level":0},{"bar":196.9,"level":27.3},{"bar":198,"level":29.7},{"bar":200.3,"level":4.7},{"bar":202.5,"level":0},{"bar":222,"level":0},{"bar":225.1,"level":44},{"bar":226.3,"level":49},{"bar":227.4,"level":44},{"bar":229.7,"level":19},{"bar":232.5,"level":2.3},{"bar":233.6,"level":18},{"bar":235.3,"level":16.7},{"bar":237,"level":0},{"bar":248.9,"level":0.7},{"bar":250,"level":11.3},{"bar":251.3,"level":13.3},{"bar":253.1,"level":0},{"bar":266.9,"level":0},{"bar":268,"level":10.7},{"bar":269.7,"level":12.3},{"bar":271.4,"level":0},{"bar":281,"level":0},{"bar":283.9,"level":40.7},{"bar":286.1,"level":54},{"bar":289,"level":92.3},{"bar":290.4,"level":82.3},{"bar":293.5,"level":82.3},{"bar":295.7,"level":49},{"bar":296.8,"level":57.3},{"bar":299.1,"level":90.7},{"bar":301.4,"level":100},{"bar":319.4,"level":100},{"bar":322.8,"level":55.7},{"bar":325.6,"level":27.3},{"bar":327.3,"level":30.7},{"bar":329,"level":24},{"bar":330.2,"level":0.7},{"bar":337,"level":0},{"bar":338.6,"level":27.3},{"bar":339.8,"level":31.3},{"bar":340.6,"level":20},{"bar":342.2,"level":1.3},{"bar":343.2,"level":0},{"bar":349.6,"level":0},{"bar":352.7,"level":45.7},{"bar":354.8,"level":58},{"bar":358,"level":25.7},{"bar":362.2,"level":0},{"bar":369,"level":0.7},{"bar":369.9,"level":10.7},{"bar":372,"level":11.3},{"bar":373.1,"level":0.7},{"bar":378.3,"level":0},{"bar":380.7,"level":28},{"bar":381.5,"level":33},{"bar":383.6,"level":5.7},{"bar":386.8,"level":52.3},{"bar":388.6,"level":45.7},{"bar":390.1,"level":17.3},{"bar":391.4,"level":9},{"bar":392.8,"level":24},{"bar":394.4,"level":72.3},{"bar":395.4,"level":60.7},{"bar":398,"level":12.3},{"bar":400.2,"level":0},{"bar":407.5,"level":0},{"bar":410.7,"level":40.7},{"bar":412.8,"level":55.7},{"bar":414.9,"level":85.7},{"bar":416.8,"level":99},{"bar":420.2,"level":47.3},{"bar":423.3,"level":29},{"bar":426.5,"level":0},{"bar":433.4,"level":0.7},{"bar":434.2,"level":7.3}]}},
{"mark":{"type":"line","color":"#ff0000","strokeWidth":1.5},"data":{"values":[{"bar":0,"level":4},{"bar":3,"level":22.3},{"bar":4.7,"level":7.3},{"bar":6.4,"level":0},{"bar":8.1,"level":0},{"bar":9.8,"level":15.7},{"bar":12.6,"level":67.3},{"bar":15.4,"level":79},{"bar":17.1,"level":77.3},{"bar":20.5,"level":99},{"bar":22.8,"level":100},{"bar":24.5,"level":87.3},{"bar":27.3,"level":44},{"bar":30.7,"level":9},{"bar":32.9,"level":0},{"bar":41.9,"level":0},{"bar":45.9,"level":21.7},{"bar":49.3,"level":0},{"bar":65.7,"level":0},{"bar":68.5,"level":37.3},{"bar":71.9,"level":54},{"bar":73,"level":52.3},{"bar":77.5,"level":10},{"bar":80.4,"level":16.7},{"bar":84.3,"level":0},{"bar":86,"level":5.7},{"bar":89.4,"level":52.3},{"bar":93.3,"level":92.3},{"bar":96.2,"level":100},{"bar":99.6,"level":100},{"bar":102.9,"level":89},{"bar":105.8,"level":98},{"bar":107.5,"level":94},{"bar":112,"level":30.7},{"bar":115.4,"level":0.7},{"bar":117.6,"level":0},{"bar":121,"level":24},{"bar":123.3,"level":21.7},{"bar":127.2,"level":40.7},{"bar":131.2,"level":90.7},{"bar":133.4,"level":60.7},{"bar":135.7,"level":27.3},{"bar":139.7,"level":5},{"bar":141.9,"level":24},{"bar":145.9,"level":69},{"bar":148.1,"level":59},{"bar":152.1,"level":53.3},{"bar":156.6,"level":93.3},{"bar":158.3,"level":80.7},{"bar":161.7,"level":27.3},{"bar":165,"level":3.3},{"bar":167.3,"level":17.3},{"bar":169.6,"level":54},{"bar":173.2,"level":78},{"bar":174.9,"level":70.7},{"bar":177.7,"level":35.7},{"bar":180,"level":20.7},{"bar":181.7,"level":12.3},{"bar":183.9,"level":14},{"bar":187.3,"level":0},{"bar":195.2,"level":0},{"bar":199.2,"level":25.7},{"bar":203.1,"level":0},{"bar":222.3,"level":0},{"bar":227.4,"level":44.7},{"bar":230.8,"level":17.3},{"bar":232.7,"level":6.7},{"bar":235.9,"level":17.3},{"bar":238.7,"level":0},{"bar":248.9,"level":0},{"bar":252,"level":11.3},{"bar":255.1,"level":0},{"bar":266.9,"level":0},{"bar":270.1,"level":11.3},{"bar":273.1,"level":0},{"bar":281,"level":0},{"bar":283.3,"level":17.3},{"bar":287.2,"level":60.7},{"bar":290.6,"level":87.3},{"bar":294,"level":82.3},{"bar":296.8,"level":59},{"bar":298,"level":60.7},{"bar":300.2,"level":87.3},{"bar":302.5,"level":98},{"bar":304.7,"level":100},{"bar":320,"level":100},{"bar":325.6,"level":40.7},{"bar":328.5,"level":27.3},{"bar":331.9,"level":0},{"bar":337,"level":0},{"bar":340.9,"level":25.7},{"bar":343.8,"level":0},{"bar":349.6,"level":0},{"bar":351.1,"level":9},{"bar":353.8,"level":44},{"bar":355.9,"level":53.3},{"bar":358,"level":40.7},{"bar":360.6,"level":10.7},{"bar":363.3,"level":0},{"bar":368.5,"level":0},{"bar":371.7,"level":10},{"bar":374.9,"level":0},{"bar":378.5,"level":0.7},{"bar":382.2,"level":27.3},{"bar":384.9,"level":15.7},{"bar":388.6,"level":45.7},{"bar":392.2,"level":17.3},{"bar":396,"level":59},{"bar":400.2,"level":5.7},{"bar":401.7,"level":0},{"bar":408,"level":0},{"bar":414.4,"level":60.7},{"bar":417.5,"level":92.3},{"bar":419.1,"level":80.7},{"bar":421.8,"level":37.3},{"bar":427.6,"level":0},{"bar":433.9,"level":0.7}]}},
{"mark":{"type":"rule","color":"#e2404f","strokeWidth":1.5},"data":{"values":[{"bar":-0.32,"end":492.65,"level":90},{"bar":-0.32,"end":492.65,"level":80}]},"encoding":{"x2":{"field":"end"}}},
{"mark":{"type":"rule","color":"#ff1010","strokeWidth":1.2},"data":{"values":[{"bar":-0.32,"end":492.65,"level":20},{"bar":-0.32,"end":492.65,"level":10}]},"encoding":{"x2":{"field":"end"}}},
{"mark":{"type":"text","align":"left","baseline":"middle","fontSize":8.5,"color":"#111111"},"data":{"values":[{"bar":493.8,"level":95,"label":"100"},{"bar":493.8,"level":5,"label":"0"}]},"encoding":{"text":{"field":"label"}}},
{"mark":{"type":"rect","color":"#ff2828"},"data":{"values":[{"bar":493.3,"end":496.5,"level":94,"low":85.5},{"bar":493.3,"end":496.5,"level":84,"low":75.5},{"bar":493.3,"end":496.5,"level":24,"low":15.5},{"bar":493.3,"end":496.5,"level":14,"low":5.5}]},"encoding":{"x2":{"field":"end"},"y2":{"field":"low"}}},
{"mark":{"type":"text","align":"center","baseline":"middle","fontSize":8,"color":"#8a1520"},"data":{"values":[{"bar":494.9,"level":90,"label":"90"},{"bar":494.9,"level":80,"label":"80"},{"bar":494.9,"level":20,"label":"20"},{"bar":494.9,"level":10,"label":"10"}]},"encoding":{"text":{"field":"label"}}},
{"mark":{"type":"rule","color":"#a09ca0","strokeWidth":1},"data":{"values":[{"bar":466,"end":489.8,"level":87},{"bar":468.6,"end":489.8,"level":70}]},"encoding":{"x2":{"field":"end"}}},
{"mark":{"type":"rect","filled":false,"stroke":"#4a86b8","strokeWidth":1.5},"data":{"values":[{"bar":464.8,"end":469,"level":93,"low":85},{"bar":463.5,"end":467.7,"level":86,"low":78}]},"encoding":{"x2":{"field":"end"},"y2":{"field":"low"}}},
{"mark":{"type":"text","align":"left","baseline":"middle","fontSize":7,"color":"#a8b8c8"},"data":{"values":[{"bar":466,"level":78,"label":"CREATIVETRADINGSYSTEMS"}]},"encoding":{"text":{"field":"label"}}},
{"mark":{"type":"text","align":"left","baseline":"middle","fontSize":11.5,"color":"#7a1a2a"},"data":{"values":[{"bar":468.3,"level":58,"label":"R3  187.508"},{"bar":468.9,"level":58,"label":"S3  187.598"}]},"encoding":{"text":{"field":"label"}}},
{"mark":{"type":"text","align":"left","baseline":"middle","fontSize":11.5,"color":"#cc2255"},"data":{"values":[{"bar":468.3,"level":42,"label":"R2  186.502"},{"bar":468.9,"level":42,"label":"S2  186.592"},{"bar":468.3,"level":25,"label":"R1  185.289"},{"bar":468.9,"level":25,"label":"S1  185.809"}]},"encoding":{"text":{"field":"label"}}},
{"mark":{"type":"text","align":"left","baseline":"middle","fontSize":11.5,"color":"#ff5a1e"},"data":{"values":[{"bar":466.5,"level":7,"label":"Pivot  184.548"},{"bar":467.2,"level":7,"label":"Pivot  184.648"}]},"encoding":{"text":{"field":"label"}}},
{"mark":{"type":"text","align":"left","baseline":"middle","fontSize":8.5,"color":"#222222"},"data":{"values":[{"bar":1,"level":91,"label":"SAM's Hi.Lo.Cross 2.4116 2.4705"}]},"encoding":{"text":{"field":"label"}}},
{"mark":{"type":"text","align":"left","baseline":"alphabetic","fontWeight":"bold","fontSize":26.3,"color":"#000000","stroke":"#000000","strokeWidth":0.4},"data":{"values":[{"bar":26.7,"level":32,"label":"CreativeTradingSystems.com"}]},"encoding":{"text":{"field":"label"}}}
]}
]
}
